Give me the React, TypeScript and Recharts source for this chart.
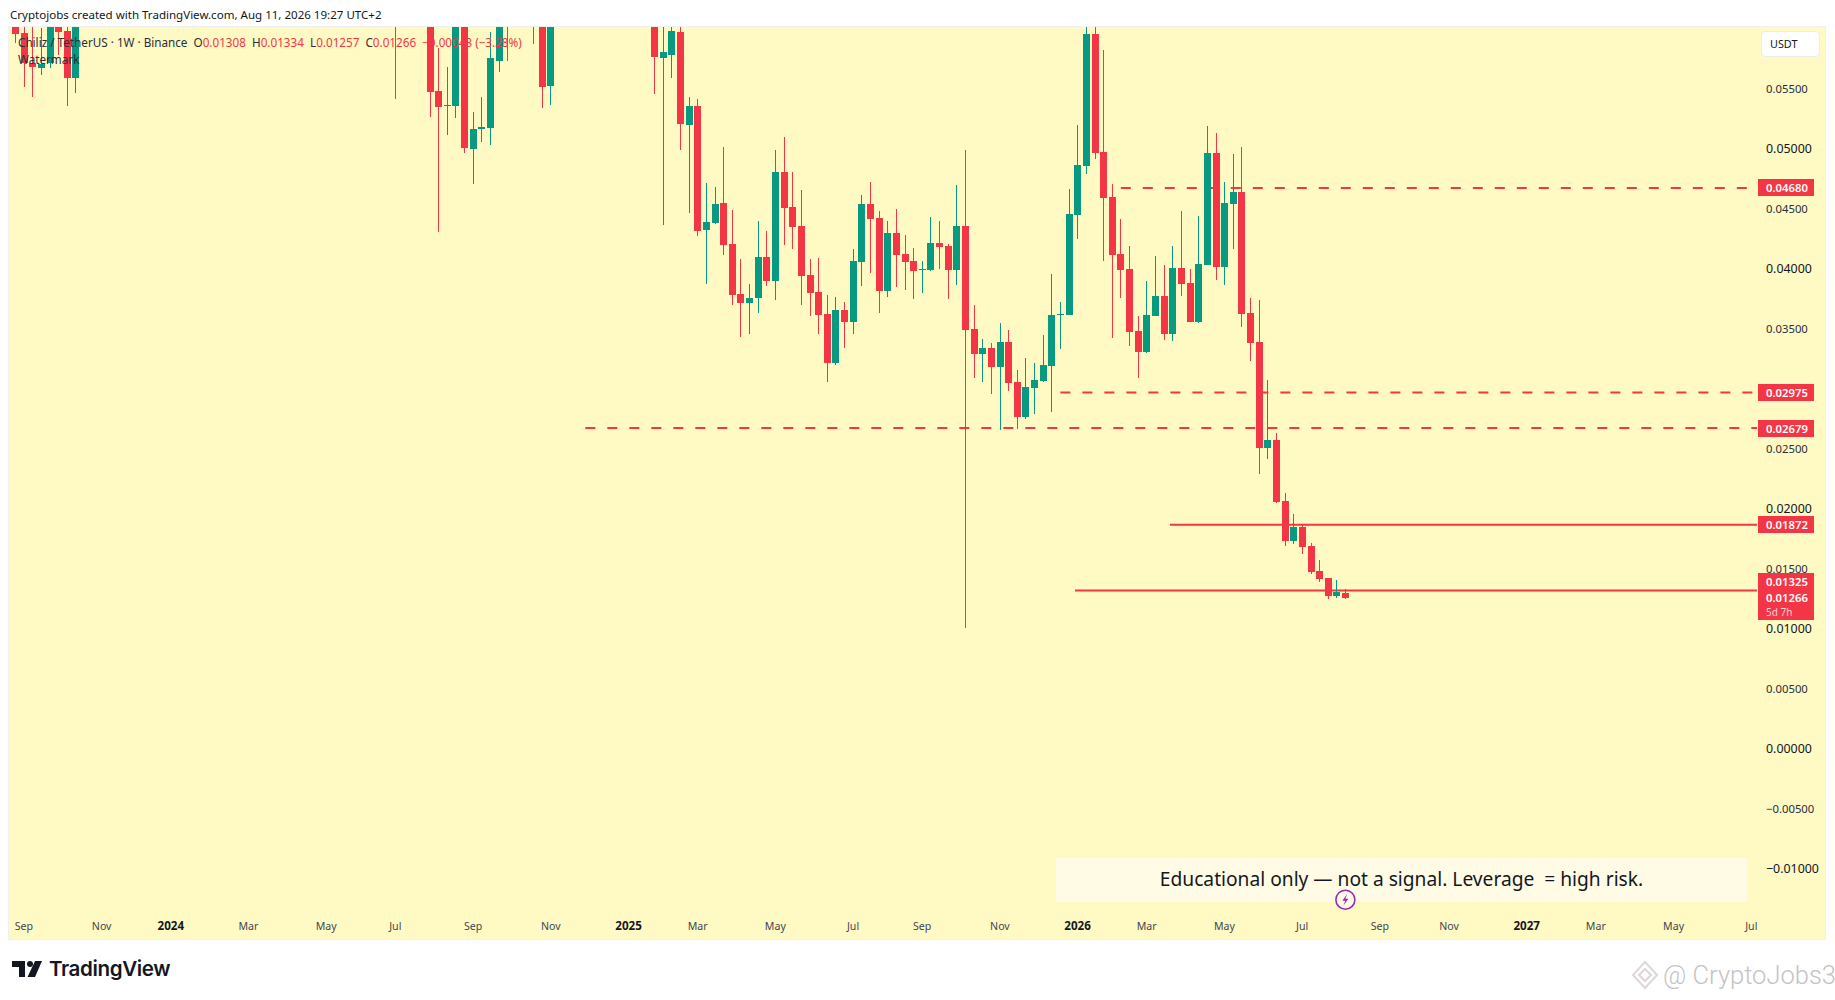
import { Bar, ComposedChart, ReferenceDot, ReferenceLine, XAxis, YAxis } from "recharts";

const UP = "#089981";
const DOWN = "#F23645";
const FONT = "'Noto Sans', sans-serif";

// weekly candles, week 0 is the first candle on the left edge
const weeks = [
  0, 1, 2, 3, 4, 5, 6, 7, 44, 48, 49, 50, 51, 52, 53, 54, 55, 56, 57, 60, 61, 62,
  74, 75, 76, 77, 78, 79, 80, 81, 82, 83, 84, 85, 86, 87, 88, 89, 90, 91, 92, 93,
  94, 95, 96, 97, 98, 99, 100, 101, 102, 103, 104, 105, 106, 107, 108, 109, 110, 111, 112, 113,
  114, 115, 116, 117, 118, 119, 120, 121, 122, 123, 124, 125, 126, 127, 128, 129, 130, 131, 132, 133,
  134, 135, 136, 137, 138, 139, 140, 141, 142, 143, 144, 145, 146, 147, 148, 149, 150, 151, 152, 153, 154,
];
const opens = [
  0.06079, 0.05971, 0.05724, 0.05682, 0.05718, 0.06018, 0.05988, 0.05599, 0.0615,
  0.06079, 0.05488, 0.05364, 0.05365, 0.06079, 0.05007, 0.05174, 0.05182, 0.0574, 0.0615, 0.0615, 0.06079, 0.05532,
  0.06079, 0.05765, 0.0579, 0.05979, 0.05207, 0.05363, 0.04332, 0.0439, 0.04554, 0.04213,
  0.03796, 0.03724, 0.03765, 0.04104, 0.03907, 0.04813, 0.04521, 0.04363, 0.03954, 0.03813,
  0.03629, 0.03224, 0.03663, 0.03565, 0.04065, 0.04546, 0.04429, 0.03824, 0.04304, 0.04129,
  0.04071, 0.03996, 0.03999, 0.04221, 0.04196, 0.03999, 0.04363, 0.03504, 0.03299, 0.03346,
  0.0319, 0.03396, 0.03063, 0.02774, 0.03015, 0.03074, 0.03199, 0.03624, 0.03624, 0.04457,
  0.04865, 0.05963, 0.04979, 0.04604, 0.04129, 0.04004, 0.03488, 0.03315, 0.03615, 0.03779,
  0.03465, 0.04013, 0.03888, 0.03565, 0.0404, 0.04971, 0.04024, 0.04549, 0.04646, 0.03638,
  0.03396, 0.02515, 0.02579, 0.02071, 0.0174, 0.01854, 0.01696, 0.01488, 0.01429, 0.01282, 0.01308,
];
const highs = [
  0.06096, 0.06079, 0.06079, 0.06013, 0.06096, 0.06079, 0.06079, 0.06096, 0.0618,
  0.06096, 0.05844, 0.05688, 0.06096, 0.06096, 0.05313, 0.05438, 0.05977, 0.06096, 0.0618, 0.0618, 0.06096, 0.06096,
  0.06096, 0.06079, 0.06079, 0.06079, 0.05438, 0.05421, 0.04721, 0.04688, 0.05021, 0.04496,
  0.04088, 0.03879, 0.04404, 0.04321, 0.04996, 0.05104, 0.04813, 0.04663, 0.04088, 0.04096,
  0.03788, 0.03771, 0.03729, 0.04171, 0.04621, 0.04729, 0.04488, 0.04404, 0.04504, 0.04288,
  0.04179, 0.04071, 0.04438, 0.04404, 0.04213, 0.04704, 0.04996, 0.03704, 0.03421, 0.03388,
  0.03554, 0.03496, 0.03163, 0.03263, 0.03221, 0.03454, 0.03963, 0.03729, 0.04671, 0.05204,
  0.06079, 0.06079, 0.05829, 0.04713, 0.04421, 0.04196, 0.03613, 0.03904, 0.04113, 0.04038,
  0.04196, 0.04488, 0.04004, 0.04446, 0.05196, 0.05138, 0.04729, 0.04963, 0.05021, 0.03763,
  0.03746, 0.03079, 0.02638, 0.02138, 0.01963, 0.01869, 0.01721, 0.01579, 0.01429, 0.01413, 0.01334,
];
const lows = [
  0.05888, 0.05521, 0.0544, 0.05624, 0.05682, 0.05788, 0.05363, 0.05474, 0.05421,
  0.05274, 0.04315, 0.05124, 0.05265, 0.04974, 0.04715, 0.05065, 0.0504, 0.05649, 0.0574, 0.05882, 0.05349, 0.05374,
  0.05465, 0.04374, 0.05599, 0.04999, 0.04474, 0.04282, 0.03882, 0.04382, 0.04124, 0.03707,
  0.0344, 0.03465, 0.0364, 0.03865, 0.03749, 0.04207, 0.04174, 0.03707, 0.03615, 0.03465,
  0.03065, 0.03207, 0.03349, 0.03465, 0.03865, 0.03973, 0.0364, 0.03774, 0.03857, 0.03832,
  0.03757, 0.03807, 0.0399, 0.04007, 0.03757, 0.03874, 0.01013, 0.03099, 0.03065, 0.02965,
  0.02665, 0.0299, 0.02674, 0.02757, 0.02799, 0.03063, 0.02815, 0.0334, 0.03624, 0.04257,
  0.04799, 0.04924, 0.04074, 0.03432, 0.03765, 0.03365, 0.03099, 0.03307, 0.03615, 0.03415,
  0.03407, 0.03782, 0.03565, 0.03557, 0.0404, 0.03915, 0.03874, 0.04174, 0.03524, 0.0324,
  0.02299, 0.02424, 0.02054, 0.01699, 0.01715, 0.01632, 0.01465, 0.01399, 0.01257, 0.01265, 0.01257,
];
const closes = [
  0.05963, 0.05718, 0.0569, 0.05713, 0.06079, 0.05982, 0.05599, 0.06079, 0.0612,
  0.05482, 0.05357, 0.05372, 0.06079, 0.05015, 0.05169, 0.05188, 0.05763, 0.06079, 0.0612, 0.0612, 0.05521, 0.06079,
  0.05774, 0.05813, 0.05988, 0.05215, 0.05363, 0.04324, 0.04396, 0.04546, 0.04207, 0.0379,
  0.03724, 0.03763, 0.04104, 0.03907, 0.04813, 0.04515, 0.04357, 0.03949, 0.03807, 0.03624,
  0.03224, 0.03663, 0.03565, 0.04071, 0.04546, 0.04424, 0.03824, 0.04304, 0.04124, 0.04065,
  0.0399, 0.04004, 0.04221, 0.0419, 0.03999, 0.04363, 0.03499, 0.03299, 0.03346, 0.0319,
  0.03396, 0.03057, 0.02774, 0.03021, 0.03079, 0.03204, 0.03621, 0.03632, 0.04463, 0.04871,
  0.05963, 0.04973, 0.04599, 0.04124, 0.03999, 0.03482, 0.03315, 0.03621, 0.03779, 0.03465,
  0.04013, 0.03882, 0.03565, 0.04046, 0.04971, 0.04024, 0.04554, 0.04646, 0.03632, 0.0339,
  0.02515, 0.02579, 0.02065, 0.0174, 0.01854, 0.0169, 0.01482, 0.01424, 0.01282, 0.01313, 0.01266,
];

const timeTicks = [1, 10, 18, 27, 36, 44, 53, 62, 71, 79, 88, 97, 105, 114, 123, 131, 140, 149, 158, 166, 175, 183, 192, 201];
const timeLabels = [
  "Sep", "Nov", "2024", "Mar", "May", "Jul", "Sep", "Nov", "2025", "Mar", "May", "Jul",
  "Sep", "Nov", "2026", "Mar", "May", "Jul", "Sep", "Nov", "2027", "Mar", "May", "Jul",
];
const priceTicks = [-0.01, -0.005, 0, 0.005, 0.01, 0.015, 0.02, 0.025, 0.035, 0.04, 0.045, 0.05, 0.055];

// drawn levels: price and the week each line starts at
const levelPrices = [0.0468, 0.02975, 0.02679, 0.01872, 0.01325];
const levelStarts = [128, 121, 66, 133.7, 122.7];
const levelDashed = [true, true, true, false, false];

const WEEK_MIN = -0.73;
const WEEK_MAX = 201.66;

const rows = weeks.map((week, i) => ({
  week,
  wick: [lows[i], highs[i]],
  body: [Math.min(opens[i], closes[i]), Math.max(opens[i], closes[i])],
  up: closes[i] >= opens[i],
}));

function CandlePart(props: any) {
  const top = Math.round(props.y);
  const bottom = Math.round(props.y + props.height);
  return (
    <rect
      x={Math.round(props.x)}
      y={top}
      width={props.width}
      height={Math.max(bottom - top, 1)}
      fill={props.payload.up ? UP : DOWN}
    />
  );
}

function formatPrice(value: number) {
  return (value < 0 ? "\u2212" : "") + Math.abs(value).toFixed(5);
}

function PriceTick({ x, y, payload }: any) {
  // round hundredths are heavier on the original scale
  const major = Math.abs(payload.value * 100 - Math.round(payload.value * 100)) < 1e-6;
  return (
    <text
      x={x}
      y={y}
      dy={4}
      fontFamily={FONT}
      fontSize={major ? 12.4 : 11.3}
      fill={major ? "#131722" : "#2a2e39"}
    >
      {formatPrice(payload.value)}
    </text>
  );
}

function TimeTick({ x, y, payload }: any) {
  const label = timeLabels[timeTicks.indexOf(payload.value)];
  const year = label.length === 4;
  return (
    <text
      x={x}
      y={y}
      dy={4}
      textAnchor="middle"
      fontFamily={FONT}
      fontSize={year ? 11.6 : 10.6}
      fontWeight={year ? 700 : 400}
      fill={year ? "#131722" : "#434651"}
    >
      {label}
    </text>
  );
}

function PriceTag({ cx, cy, price, shift = 0, note }: any) {
  const top = Math.round(cy - 8.5 + shift);
  const height = note ? 31 : 17;
  return (
    <g>
      <rect x={cx + 1} y={top} width={56} height={height} fill={DOWN} />
      <text x={cx + 9} y={top + 12.5} fontFamily={FONT} fontSize={11.3} fontWeight={600} fill="#fff">
        {price.toFixed(5)}
      </text>
      {note && (
        <text x={cx + 9} y={top + 27} fontFamily={FONT} fontSize={10} fill="#ffd3d8">
          {note}
        </text>
      )}
    </g>
  );
}

function BoltMark({ cx, cy }: any) {
  return (
    <g>
      <circle cx={cx} cy={cy} r={9.5} fill="#fffbe4" stroke="#9c27b0" strokeWidth={1.6} />
      <path d={`M${cx + 2} ${cy - 6}L${cx - 3} ${cy + 1}H${cx}L${cx - 2} ${cy + 6}L${cx + 3} ${cy - 1}H${cx}Z`} fill="#9c27b0" />
    </g>
  );
}

const overlay = (left: number, top: number, extra: any = {}) => ({
  position: "absolute" as const,
  left,
  top,
  fontFamily: FONT,
  whiteSpace: "pre" as const,
  ...extra,
});

function Legend() {
  const red = { color: DOWN };
  return (
    <>
      <div style={overlay(18, 34, { fontSize: 11.7, lineHeight: "16px", color: "#2a2e39" })}>
        {"Chiliz / TetherUS \u00b7 1W \u00b7 Binance  O"}
        <span style={red}>0.01308</span>
        {"  H"}
        <span style={red}>0.01334</span>
        {"  L"}
        <span style={red}>0.01257</span>
        {"  C"}
        <span style={red}>0.01266</span>
        <span style={red}>{"  \u22120.00043 (\u22123.28%)"}</span>
      </div>
      <div style={overlay(18, 51, { fontSize: 11.7, lineHeight: "16px", color: "#2a2e39" })}>Watermark</div>
    </>
  );
}

export default function App() {
  return (
    <div style={{ position: "absolute", left: 0, top: 0, width: 1835, height: 1000, background: "#fff", overflow: "hidden" }}>
      <div style={overlay(10, 7, { fontSize: 11.55, lineHeight: "16px", color: "#131722" })}>
        Cryptojobs created with TradingView.com, Aug 11, 2026 19:27 UTC+2
      </div>
      <div
        style={{
          position: "absolute",
          left: 8,
          top: 26,
          width: 1816,
          height: 912,
          background: "#FFF9C4",
          border: "1px solid #f0f0f0",
        }}
      />
      <div style={{ position: "absolute", left: 1056, top: 858, width: 691, height: 44, background: "#FFFBE4" }} />
      <div style={{ position: "absolute", left: 0, top: 0 }}>
        <ComposedChart
          width={1835}
          height={1000}
          data={rows}
          margin={{ top: 27, right: 10, bottom: 61, left: 9 }}
          barGap={0}
        >
          <XAxis xAxisId="bodies" dataKey="week" type="number" domain={[WEEK_MIN, WEEK_MAX]} allowDataOverflow hide height={0} />
          <XAxis
            xAxisId="time"
            dataKey="week"
            type="number"
            domain={[WEEK_MIN, WEEK_MAX]}
            ticks={timeTicks}
            interval={0}
            allowDataOverflow
            axisLine={false}
            tickLine={false}
            tickSize={0}
            tickMargin={14}
            height={27}
            tick={<TimeTick />}
          />
          <YAxis
            yAxisId="price"
            orientation="right"
            width={68}
            type="number"
            domain={[-0.013542, 0.060208]}
            ticks={priceTicks}
            interval={0}
            allowDataOverflow
            axisLine={false}
            tickLine={false}
            tickSize={0}
            tickMargin={9}
            tick={<PriceTick />}
          />
          {levelPrices.map((price, i) => (
            <ReferenceLine
              key={price}
              xAxisId="time"
              yAxisId="price"
              segment={[
                { x: levelStarts[i], y: price },
                { x: WEEK_MAX, y: price },
              ]}
              stroke={DOWN}
              strokeWidth={2}
              strokeDasharray={levelDashed[i] ? "10 12" : undefined}
              zIndex={100}
            />
          ))}
          <Bar
            xAxisId="time"
            yAxisId="price"
            dataKey="wick"
            barSize={1}
            isAnimationActive={false}
            shape={<CandlePart />}
          />
          <Bar
            xAxisId="bodies"
            yAxisId="price"
            dataKey="body"
            barSize={7}
            isAnimationActive={false}
            shape={<CandlePart />}
          />
          <ReferenceDot
            xAxisId="time"
            yAxisId="price"
            x={154}
            y={-0.012517}
            shape={<BoltMark />}
            zIndex={3000}
          />
          <ReferenceDot xAxisId="time" yAxisId="price" x={WEEK_MAX} y={0.0468} shape={<PriceTag price={0.0468} />} zIndex={3000} />
          <ReferenceDot xAxisId="time" yAxisId="price" x={WEEK_MAX} y={0.02975} shape={<PriceTag price={0.02975} />} zIndex={3000} />
          <ReferenceDot xAxisId="time" yAxisId="price" x={WEEK_MAX} y={0.02679} shape={<PriceTag price={0.02679} />} zIndex={3000} />
          <ReferenceDot xAxisId="time" yAxisId="price" x={WEEK_MAX} y={0.01872} shape={<PriceTag price={0.01872} />} zIndex={3000} />
          <ReferenceDot xAxisId="time" yAxisId="price" x={WEEK_MAX} y={0.01325} shape={<PriceTag price={0.01325} shift={-8.6} />} zIndex={3000} />
          <ReferenceDot xAxisId="time" yAxisId="price" x={WEEK_MAX} y={0.01266} shape={<PriceTag price={0.01266} note="5d 7h" />} zIndex={3000} />
        </ComposedChart>
      </div>
      <Legend />
      <div style={{ ...overlay(1056, 857, { fontSize: 19.2, lineHeight: "44px", width: 691, textAlign: "center", color: "#131722" }) }}>
        {"Educational only \u2014 not a signal. Leverage  = high risk."}
      </div>
      <div
        style={overlay(1761, 31, {
          width: 59,
          height: 26,
          boxSizing: "border-box",
          background: "#fff",
          border: "1px solid #ececec",
          borderRadius: 4,
          fontSize: 10.8,
          lineHeight: "24px",
          paddingLeft: 8,
          color: "#131722",
        })}
      >
        USDT
      </div>
      <svg style={{ position: "absolute", left: 12, top: 960 }} width={30} height={18} viewBox="0 0 30 18">
        <path d="M0 1H13V17H7V7H0Z" fill="#131722" />
        <circle cx={18} cy={4} r={3} fill="#131722" />
        <path d="M23 1H30L23 17H15.5Z" fill="#131722" />
      </svg>
      <div style={overlay(49, 955, { fontFamily: "Inter, sans-serif", fontSize: 20.6, fontWeight: 600, lineHeight: "28px", color: "#131722", letterSpacing: -0.4 })}>
        TradingView
      </div>
      <svg style={{ position: "absolute", left: 1630, top: 960 }} width={30} height={30} viewBox="0 0 30 30">
        <path d="M15 2L27 15L15 28L3 15Z" fill="none" stroke="#dcd8d8" strokeWidth={2} />
        <path d="M15 9L21 15L15 21L9 15Z" fill="none" stroke="#e0d4d4" strokeWidth={2} />
      </svg>
      <div style={overlay(1663, 958, { fontFamily: "Roboto, sans-serif", fontSize: 25.5, fontWeight: 300, lineHeight: "34px", color: "#c4c4c4" })}>
        @ CryptoJobs3
      </div>
    </div>
  );
}
